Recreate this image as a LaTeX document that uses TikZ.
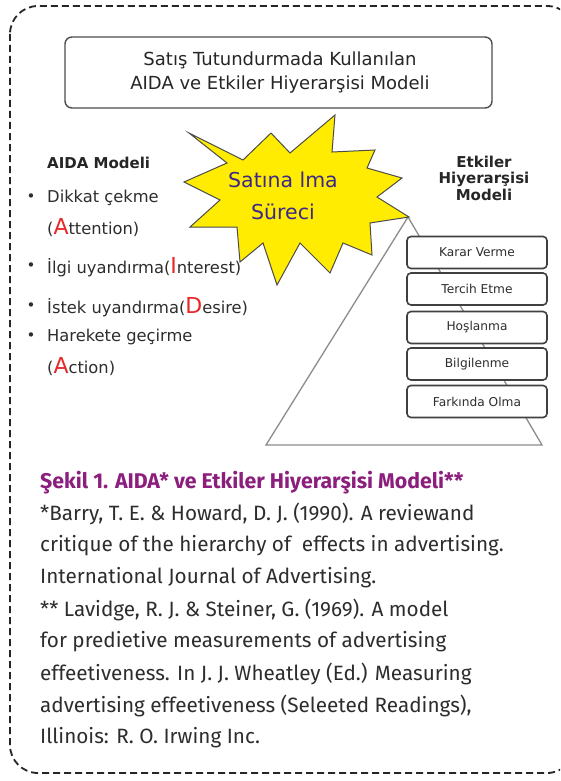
\documentclass[tikz,border=0pt]{standalone}
\usepackage{fontspec}
\setmainfont{DejaVu Sans}
\newfontfamily\capfont{Fira Sans}
\definecolor{starY}{RGB}{255,236,0}
\definecolor{starT}{RGB}{58,40,140}
\definecolor{capP}{RGB}{140,30,125}
\definecolor{txt}{RGB}{45,45,45}
\definecolor{redL}{RGB}{230,40,40}
\begin{document}
\begin{tikzpicture}[x=1pt,y=-1pt,
  border/.style={draw=black!85, line width=1.8pt, dash pattern=on 7pt off 4pt, rounded corners=28pt},
  titlebox/.style={draw=black!70, line width=1.4pt, rounded corners=7pt, fill=white, minimum width=427pt, minimum height=71pt, inner sep=0pt},
  titletext/.style={font=\fontsize{18}{20}\selectfont, text=black!85, align=center},
  head/.style={font=\bfseries\fontsize{15}{17.5}\selectfont, text=black!85},
  item/.style={font=\fontsize{16.3}{19}\selectfont, text=txt, anchor=west, inner sep=0pt},
  bul/.style={font=\fontsize{15}{17}\selectfont, text=txt, inner sep=0pt},
  stagebox/.style={draw=black!75, line width=1.6pt, rounded corners=4pt, fill=white, minimum width=140pt, minimum height=32pt, inner sep=0pt, font=\fontsize{12.2}{14}\selectfont, text=txt},
  startext/.style={font=\fontsize{20.5}{24}\selectfont, text=starT},
  captext/.style={font=\capfont\bfseries\fontsize{21.3}{24}\selectfont, text=capP, anchor=west, inner sep=0pt},
  reftext/.style={font=\capfont\fontsize{20.7}{24}\selectfont, text=txt, anchor=west, inner sep=0pt},
  tri/.style={draw=black!45, line width=1.3pt}
]
\newcommand\redletter[1]{\textcolor{redL}{\fontsize{22}{22}\selectfont #1}}
\useasboundingbox (0,0) rectangle (560,781);
\fill[white] (0,0) rectangle (560,781);
\begin{scope}
\clip (0,0) rectangle (560,781);
\draw[border] (10,6) rectangle (575,773);
\end{scope}

% title
\node[titlebox] (title) at (278.5,72.5) {};
\node[titletext] (t1) at (280,60) {Satış Tutundurmada Kullanılan};
\node[titletext] (t2) at (280,85) {AIDA ve Etkiler Hiyerarşisi Modeli};

% triangle
\coordinate (apex) at (408,217);
\coordinate (bl) at (266,445);
\coordinate (br) at (542,445);
\draw[tri] (apex) -- (bl) -- (br) -- cycle;

% star
\draw[fill=starY, draw=black!70, line width=1pt]
 (189,133) -- (243,160) -- (271,133) -- (290,153) -- (335,115) -- (332,152)
 -- (375,150) -- (367,168) -- (402,178) -- (377,197) -- (409,217) -- (370,223)
 -- (372,255) -- (343,243) -- (330,273) -- (300,243) -- (277,285) -- (263,243)
 -- (240,262) -- (237,227) -- (190,227) -- (220,200) -- (184,182) -- (227,163) -- cycle;
\node[startext] (s1) at (283,180) {Satına lma};
\node[startext] (s2) at (283,212) {Süreci};

% AIDA
\node[head, anchor=west, inner sep=0pt] (aida) at (47,163) {AIDA Modeli};
\node[bul] (b1) at (31,198) {•};
\node[item] (i1) at (47,198) {Dikkat çekme};
\node[item] (i1b) at (47,228) {(\redletter{A}ttention)};
\node[bul] (b2) at (31,267) {•};
\node[item] (i2) at (47,267) {İlgi uyandırma(\redletter{I}nterest)};
\node[bul] (b3) at (31,307) {•};
\node[item] (i3) at (47,307) {İstek uyandırma(\redletter{D}esire)};
\node[bul] (b4) at (31,337) {•};
\node[item] (i4) at (47,337) {Harekete geçirme};
\node[item] (i4b) at (47,367) {(\redletter{A}ction)};

% Etkiler
\node[head, align=center] (etk) at (484,178) {Etkiler\\[-1pt]Hiyerarşisi\\[-1pt]Modeli};
\node[stagebox] (k1) at (477,252.5) {Karar Verme};
\node[stagebox] (k2) at (477,289) {Tercih Etme};
\node[stagebox] (k3) at (477,327.5) {Hoşlanma};
\node[stagebox] (k4) at (477,364) {Bilgilenme};
\node[stagebox] (k5) at (477,401.5) {Farkında Olma};

% caption and references
\node[captext] (capn) at (40,483) {Şekil 1. AIDA* ve Etkiler Hiyerarşisi Modeli**};
\node[reftext] (r1) at (40,514) {*Barry, T. E. \& Howard, D. J. (1990). A reviewand};
\node[reftext] (r2) at (40,546) {critique of the hierarchy of\ \ effects in advertising.};
\node[reftext] (r3) at (40,578) {International Journal of Advertising.};
\node[reftext] (r4) at (40,610) {** Lavidge, R. J. \& Steiner, G. (1969). A model};
\node[reftext] (r5) at (40,642) {for predietive measurements of advertising};
\node[reftext] (r6) at (40,674) {effeetiveness. In J. J. Wheatley (Ed.) Measuring};
\node[reftext] (r7) at (40,706) {advertising effeetiveness (Seleeted Readings),};
\node[reftext] (r8) at (40,738) {Illinois: R. O. Irwing Inc.};
\end{tikzpicture}
\end{document}
